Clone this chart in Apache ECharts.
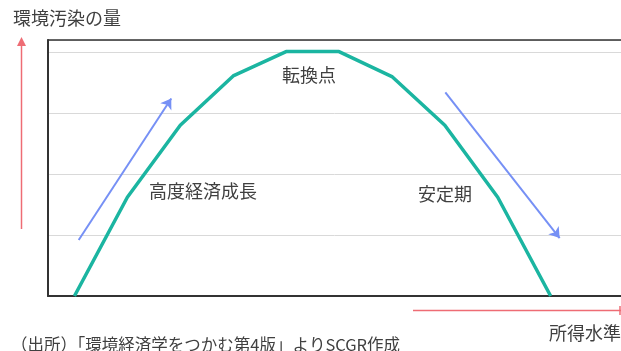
<!DOCTYPE html>
<html>
<head>
<meta charset="utf-8">
<script src="https://cdn.jsdelivr.net/npm/echarts@6/dist/echarts.min.js"></script>
<style>
  html, body { margin: 0; padding: 0; background: #fff; }
  #chart { width: 621px; height: 351px; }
</style>
</head>
<body>
<div id="chart"></div>
<script>
// 所得水準 (stage index) and 環境汚染の量
var incomeSteps = [0, 1, 2, 3, 4, 5, 6, 7, 8, 9];
var pollution = [0, 1.62, 2.8, 3.61, 4.01, 4.01, 3.6, 2.8, 1.62, 0];

// trend arrows, in data units: [x0, y0, x1, y1]
var growthArrow = [0.08, 0.92, 1.83, 3.24];
var stableArrow = [7.01, 3.34, 9.17, 0.95];

var FONT = '"Noto Sans CJK JP", "Noto Sans CJK SC", sans-serif';
var TEXT = '#404040';
var RED = '#ee6c74';

var myChart = echarts.init(document.getElementById('chart'));

var option = {
  animation: false,
  grid: { left: 48, top: 40, right: 0, bottom: 55 },
  xAxis: [
    {
      type: 'value', min: -0.5, max: 10.33,
      axisLine: { show: true, onZero: false, lineStyle: { color: '#333', width: 2 } },
      axisTick: { show: false }, axisLabel: { show: false }, splitLine: { show: false }
    },
    {
      type: 'value', position: 'top', min: -0.5, max: 10.33,
      axisLine: { show: true, onZero: false, lineStyle: { color: '#333', width: 1.5 } },
      axisTick: { show: false }, axisLabel: { show: false }, splitLine: { show: false }
    }
  ],
  yAxis: {
    type: 'value', min: 0, max: 4.2, interval: 1,
    axisLine: { show: true, onZero: false, lineStyle: { color: '#333', width: 2 } },
    axisTick: { show: false }, axisLabel: { show: false },
    splitLine: { lineStyle: { color: '#d9d9d9', width: 1 } }
  },
  series: [
    {
      type: 'line',
      data: incomeSteps.map(function (x, i) { return [x, pollution[i]]; }),
      symbol: 'none',
      lineStyle: { color: '#1bb5a1', width: 3.5 },
      z: 3
    },
    {
      type: 'lines',
      coordinateSystem: 'cartesian2d',
      symbol: ['none', 'arrow'],
      symbolSize: 10,
      lineStyle: { color: '#7690f5', width: 2, opacity: 1 },
      data: [
        { coords: [[growthArrow[0], growthArrow[1]], [growthArrow[2], growthArrow[3]]] },
        { coords: [[stableArrow[0], stableArrow[1]], [stableArrow[2], stableArrow[3]]] }
      ],
      z: 2
    }
  ],
  graphic: [
    { type: 'text', left: 13, top: 9, style: { text: '環境汚染の量', font: '18px ' + FONT, fill: TEXT } },
    { type: 'text', right: 0, top: 324, style: { text: '所得水準', font: '18px ' + FONT, fill: TEXT } },
    { type: 'text', left: 11, top: 336, style: { text: '（出所）「環境経済学をつかむ第4版」よりSCGR作成', font: '16.5px ' + FONT, fill: TEXT } },
    { type: 'text', left: 282, top: 66, style: { text: '転換点', font: '18px ' + FONT, fill: TEXT } },
    { type: 'text', left: 149, top: 182, style: { text: '高度経済成長', font: '18px ' + FONT, fill: TEXT } },
    { type: 'text', left: 418, top: 185, style: { text: '安定期', font: '18px ' + FONT, fill: TEXT } },
    // red vertical arrow
    { type: 'line', shape: { x1: 21.5, y1: 44, x2: 21.5, y2: 229 }, style: { stroke: RED, lineWidth: 1.5 } },
    { type: 'polygon', shape: { points: [[21.5, 37], [17, 46], [26, 46]] }, style: { fill: RED } },
    // red horizontal arrow
    { type: 'line', shape: { x1: 413, y1: 310.5, x2: 621, y2: 310.5 }, style: { stroke: RED, lineWidth: 1.5 } },
    { type: 'line', shape: { x1: 620, y1: 306, x2: 620, y2: 315 }, style: { stroke: RED, lineWidth: 1.5 } }
  ]
};

myChart.setOption(option);
</script>
</body>
</html>
